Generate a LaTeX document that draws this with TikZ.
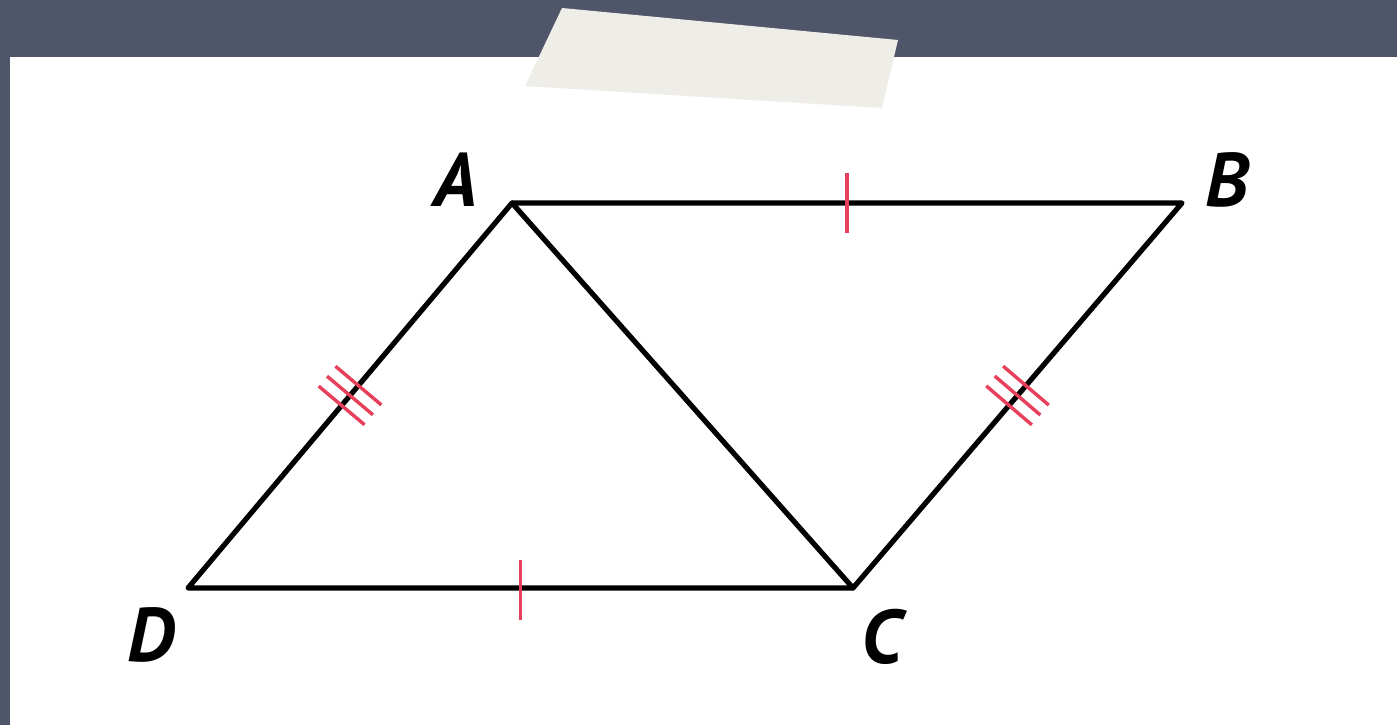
\documentclass[tikz,border=0pt]{standalone}
\usepackage{fontspec}
\setmainfont{PT Sans}
\usetikzlibrary{calc}
\definecolor{board}{HTML}{50566A}
\definecolor{tape}{HTML}{EEEDE7}
\definecolor{tick}{HTML}{E8405A}
\tikzset{
  side/.style={line width=5.2pt, black, line cap=round, line join=round},
  tickmark/.style={line width=3.4pt, tick},
  vlabel/.style={font=\fontsize{76}{80}\selectfont\bfseries\itshape, inner sep=0pt}
}
\begin{document}
\begin{tikzpicture}[x=1pt,y=-1pt]
\useasboundingbox (0,0) rectangle (1397,725);
\fill[board] (0,0) rectangle (1397,725);
\fill[white] (10,57) rectangle (1397,725);
\fill[tape] (562,8) -- (898,40) -- (882,108) -- (525,86) -- cycle;
\coordinate (A) at (512,203);
\coordinate (B) at (1182,203);
\coordinate (C) at (853,588);
\coordinate (D) at (188,588);
\draw[side] (D) -- (A) -- (B) -- (C) -- cycle;
\draw[side] (A) -- (C);
% single ticks
\draw[tickmark] ($(A)!0.5!(B)+(0,-30)$) -- ($(A)!0.5!(B)+(0,30)$);
\draw[tickmark] ($(D)!0.5!(C)+(0,-28)$) -- ($(D)!0.5!(C)+(0,32)$);
% triple ticks
\foreach \s in {-13,0,13}{
  \draw[tickmark] ($(D)!0.5!(A)!\s pt!(A)!30pt!90:(A)$) -- ($(D)!0.5!(A)!\s pt!(A)!-30pt!90:(A)$);
  \draw[tickmark] ($(C)!0.5!(B)!\s pt!(B)!30pt!90:(B)$) -- ($(C)!0.5!(B)!\s pt!(B)!-30pt!90:(B)$);
}
\node[vlabel] (lA) at (456,180) {A};
\node[vlabel] (lB) at (1227,180) {B};
\node[vlabel] (lC) at (882,637) {C};
\node[vlabel] (lD) at (151,635) {D};
\end{tikzpicture}
\end{document}
